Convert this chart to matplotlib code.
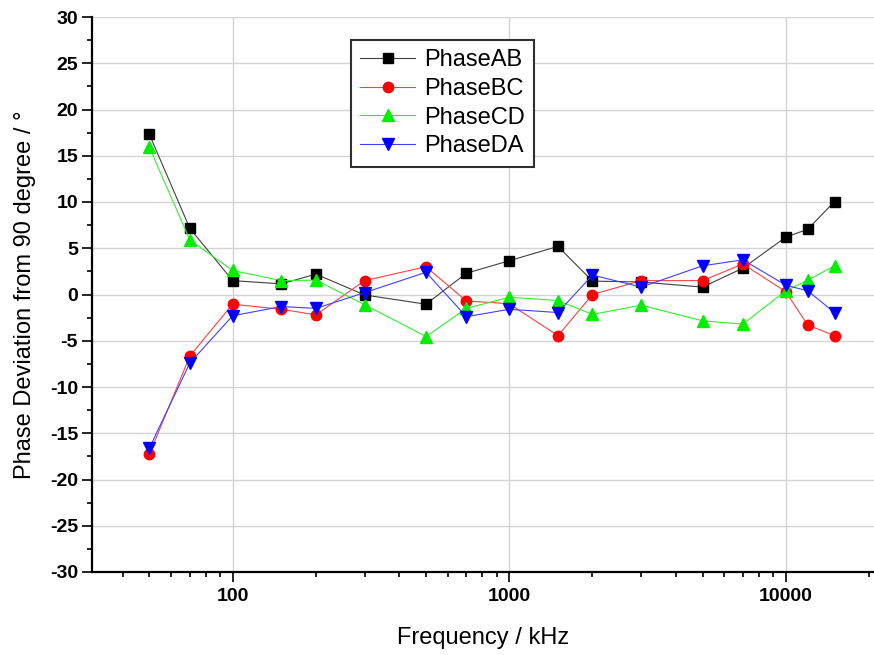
import matplotlib.pyplot as plt
from matplotlib.ticker import MultipleLocator, LogLocator, NullFormatter, FixedLocator

plt.rcParams["font.family"] = ["Liberation Sans", "DejaVu Sans"]
plt.rcParams["axes.unicode_minus"] = False

freq = [50, 70, 100, 150, 200, 300, 500, 700, 1000, 1500, 2000, 3000, 5000, 7000, 10000, 12000, 15000]
phase_ab = [17.3, 7.15, 1.5, 1.15, 2.2, -0.05, -1.05, 2.3, 3.65, 5.2, 1.45, 1.35, 0.8, 2.85, 6.2, 7.05, 10.05]
phase_bc = [-17.25, -6.65, -1.05, -1.6, -2.2, 1.5, 3.0, -0.7, -1.0, -4.45, 0.0, 1.5, 1.5, 3.3, 0.3, -3.3, -4.45]
phase_cd = [15.9, 5.9, 2.6, 1.5, 1.55, -1.1, -4.55, -1.5, -0.3, -0.65, -2.15, -1.15, -2.85, -3.2, 0.4, 1.55, 3.1]
phase_da = [-16.6, -7.4, -2.3, -1.3, -1.5, 0.2, 2.4, -2.4, -1.6, -1.95, 2.1, 0.8, 3.1, 3.75, 1.0, 0.4, -1.95]

series = [
    ("PhaseAB", phase_ab, "#000000", "#404040", "s", 7),
    ("PhaseBC", phase_bc, "#ff0000", "#ff4040", "o", 7.5),
    ("PhaseCD", phase_cd, "#00ee00", "#30f030", "^", 8.5),
    ("PhaseDA", phase_da, "#0000ff", "#4040ff", "v", 8.5),
]

fig = plt.figure(figsize=(8.74, 6.55), dpi=100)
ax = fig.add_axes([92 / 874, 1 - 572 / 655, 1 - 92 / 874, (572 - 17) / 655])

for name, vals, mcol, lcol, mk, ms in series:
    ax.plot(freq, vals, color=lcol, lw=0.8, marker=mk, markersize=ms,
            markerfacecolor=mcol, markeredgecolor=mcol, label=name, zorder=3)

ax.set_xscale("log")
ax.set_xlim(31, 20840)
ax.set_ylim(-30, 30)

ax.xaxis.set_major_locator(FixedLocator([100, 1000, 10000]))
ax.xaxis.set_major_formatter(plt.FuncFormatter(lambda v, p: f"{int(v)}"))
ax.xaxis.set_minor_locator(LogLocator(base=10, subs=range(2, 10), numticks=20))
ax.xaxis.set_minor_formatter(NullFormatter())
ax.yaxis.set_major_locator(MultipleLocator(5))
ax.yaxis.set_minor_locator(MultipleLocator(2.5))

ax.grid(which="major", color="#d4d4d4", lw=1, zorder=0)
ax.set_axisbelow(True)

ax.spines[["top", "right"]].set_visible(False)
ax.spines[["left", "bottom"]].set_linewidth(1.6)
ax.tick_params(which="major", direction="out", length=7.5, width=1.2,
               labelsize=14, pad=2.5)
ax.tick_params(which="minor", direction="out", length=3.5, width=1.2)
ax.tick_params(axis="x", which="major", pad=4)
for lab in ax.get_xticklabels() + ax.get_yticklabels():
    lab.set_fontweight("bold")

ax.set_xlabel("Frequency / kHz", fontsize=17, labelpad=16)
ax.set_ylabel("Phase Deviation from 90 degree / °", fontsize=17, labelpad=10)

leg = ax.legend(loc="upper left", bbox_to_anchor=(351 / 874, 1 - 40 / 655),
                bbox_transform=fig.transFigure, borderaxespad=0,
                fontsize=17, handlelength=2.3, handletextpad=0.4,
                borderpad=0.4, labelspacing=0.28, fancybox=False,
                framealpha=1, edgecolor="#303030")
leg.get_frame().set_linewidth(1.5)

fig.savefig("out.png", dpi=100)
